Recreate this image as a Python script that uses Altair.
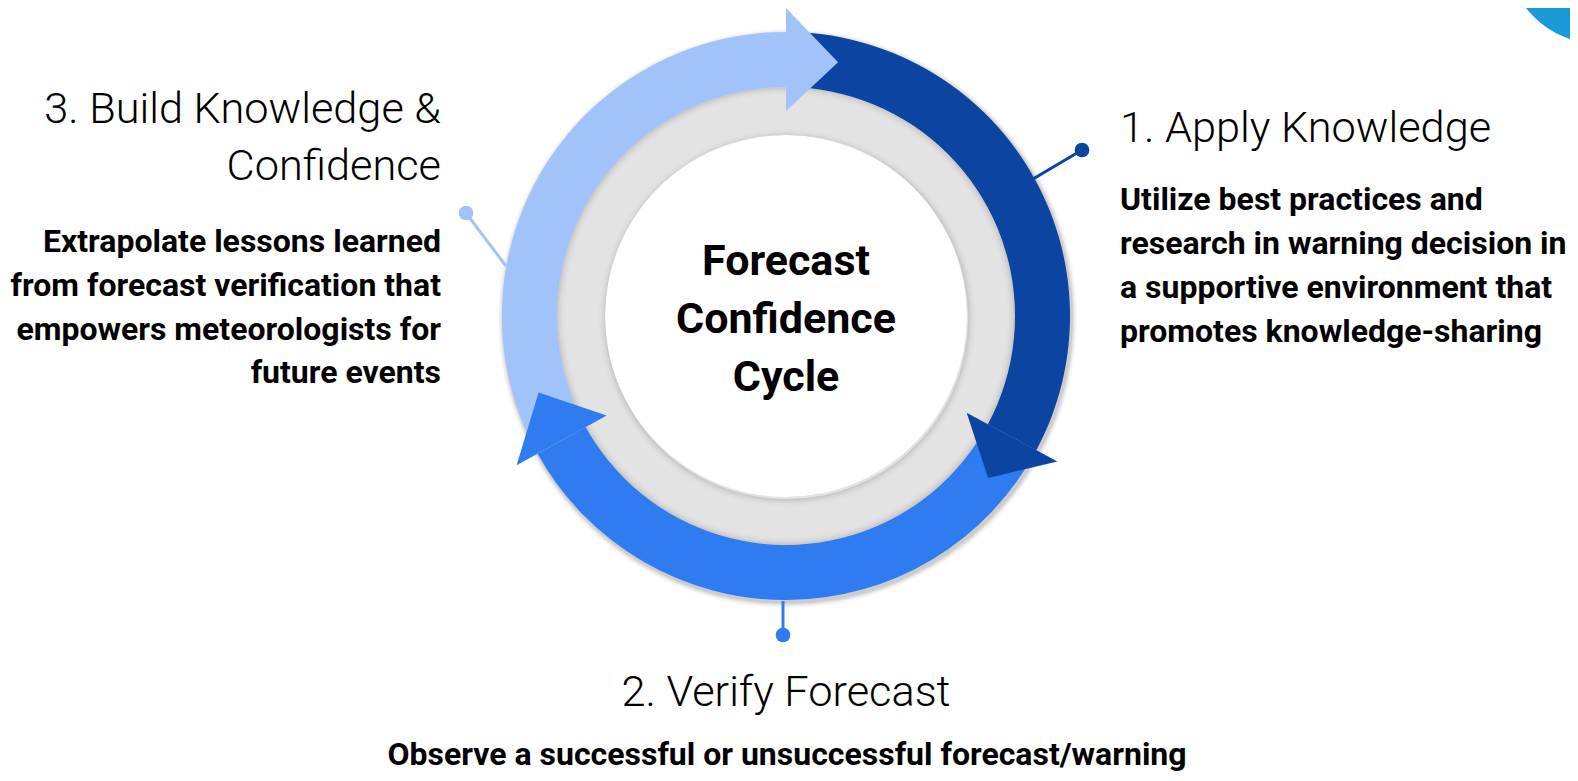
import math
import altair as alt
import pandas as pd

# ---------------- content ----------------
center_lines = ["Forecast", "Confidence", "Cycle"]

stage_colors = ["#0B44A1", "#2F7CF1", "#A1C3FA"]          # apply, verify, build
stage_titles = [["1. Apply Knowledge"],
                ["2. Verify Forecast"],
                ["3. Build Knowledge &", "Confidence"]]
stage_descs = [["Utilize best practices and",
                "research in warning decision in",
                "a supportive environment that",
                "promotes knowledge-sharing"],
               ["Observe a successful or unsuccessful forecast/warning"],
               ["Extrapolate lessons learned",
                "from forecast verification that",
                "empowers meteorologists for",
                "future events"]]

# cycle segments, degrees clockwise from 12 o'clock
band_start_deg = [0.0, 118.2, 241.0]
band_end_deg = [118.2, 241.0, 360.0]
head_span_deg = [10.5, 11.8, 11.6]

# ---------------- layout ----------------
CX, CY = 786, 316
R_WHITE, R_GREY = 181, 229
R_BAND_IN, R_BAND_OUT = 228, 284
HEAD_IN, HEAD_OUT, HEAD_TIP = 205, 308, 259

title_anchor = [(1120, [142]), (786, [706]), (441, [123, 180])]
desc_anchor = [(1120, [210, 254, 298, 342]), (787, [765]), (441, [252, 296, 340, 383])]
title_align = ["left", "center", "right"]
conn_from = [(1033, 179), (783, 601), (506, 266)]
conn_to = [(1082, 150), (783, 635), (466, 213)]
center_text_y = [275, 333, 391]
corner_circle = (1600, -50, 94, "#1A9AD6")

TITLE_SIZE, DESC_SIZE, CENTER_SIZE = 43.3, 32, 43

W, H = 1562, 765
xs = alt.Scale(domain=[8, 8 + W], nice=False, zero=False)
ys = alt.Scale(domain=[8 + H, 8], nice=False, zero=False)


def X(f):
    return alt.X(f + ":Q", scale=xs, axis=None)


def Y(f):
    return alt.Y(f + ":Q", scale=ys, axis=None)


def arc_layer(rows, **mk):
    df = pd.DataFrame(rows, columns=["cx", "cy", "t1", "t2", "ri", "ro", "color", "op"])
    return alt.Chart(df).mark_arc(**mk).encode(
        x=X("cx"), y=Y("cy"),
        theta=alt.Theta("t1:Q", scale=None, stack=None),
        theta2=alt.Theta2("t2:Q"),
        radius=alt.Radius("ro:Q", scale=None),
        radius2=alt.Radius2("ri:Q"),
        color=alt.Color("color:N", scale=None),
        opacity=alt.Opacity("op:Q", scale=None),
    )


rad = math.radians
full = 2 * math.pi

# corner decoration
ccx, ccy, ccr, ccc = corner_circle
corner = arc_layer([(ccx, ccy, 0, full, 0, ccr, ccc, 1.0)])

# soft shadow beneath the coloured ring
shadow_rows = []
for i, op in enumerate([0.05, 0.05, 0.04, 0.03, 0.02, 0.015]):
    shadow_rows.append((CX + 1.5, CY + 2.5, 0, full, 0, R_BAND_OUT + 1 + i, "#000000", op))
shadow = arc_layer(shadow_rows)

# coloured bands
band_rows = [(CX, CY, rad(s), rad(e), R_BAND_IN, R_BAND_OUT, c, 1.0)
             for s, e, c in zip(band_start_deg, band_end_deg, stage_colors)]
bands = arc_layer(band_rows)

# grey ring with soft inner/outer shading, then white disc
grey_rows = [(CX, CY, 0, full, R_WHITE, R_GREY, "#E3E3E3", 1.0)]
for i, op in enumerate([0.10, 0.06, 0.035, 0.015]):
    grey_rows.append((CX, CY, 0, full, R_GREY - 2 * (i + 1), R_GREY, "#000000", op * 0.5))
for i, op in enumerate([0.10, 0.06, 0.035, 0.015]):
    grey_rows.append((CX + 1, CY + 2, 0, full, R_WHITE, R_WHITE + 2 * (i + 1), "#000000", op * 0.5))
grey = arc_layer(grey_rows)
white = arc_layer([(CX, CY, 0, full, 0, R_WHITE, "#FFFFFF", 1.0)])


# arrow heads (triangles) as planar polygons
def pt(a_deg, r):
    a = rad(a_deg)
    return [CX + r * math.sin(a) - 8, CY - r * math.cos(a) - 8]


features = []
for e, span, c in zip(band_end_deg, head_span_deg, stage_colors):
    poly = [pt(e, HEAD_IN), pt(e, HEAD_OUT), pt(e + span, HEAD_TIP), pt(e, HEAD_IN)]
    features.append({"type": "Feature", "properties": {"color": c},
                     "geometry": {"type": "Polygon", "coordinates": [poly]}})
heads = alt.Chart(alt.Data(values=features)).mark_geoshape(
    strokeOpacity=0, strokeWidth=0
).encode(
    color=alt.Color("properties.color:N", scale=None)
).project(type="identity", scale=1, translate=[0, 0])

# connectors
conn_df = pd.DataFrame({
    "x1": [p[0] for p in conn_from], "y1": [p[1] for p in conn_from],
    "x2": [p[0] for p in conn_to], "y2": [p[1] for p in conn_to],
    "color": stage_colors,
})
rules = alt.Chart(conn_df).mark_rule(strokeWidth=3).encode(
    x=X("x1"), y=Y("y1"), x2="x2:Q", y2="y2:Q",
    color=alt.Color("color:N", scale=None))
dots = alt.Chart(conn_df).mark_circle(size=215, opacity=1).encode(
    x=X("x2"), y=Y("y2"), color=alt.Color("color:N", scale=None))


# text
def text_layer(rows, align, size, weight):
    df = pd.DataFrame(rows, columns=["text", "x", "y"])
    return alt.Chart(df).mark_text(
        align=align, baseline="alphabetic", font="Roboto",
        fontSize=size, fontWeight=weight, color="#000000"
    ).encode(x=X("x"), y=Y("y"), text="text:N")


text_layers = []
for i in range(3):
    tx, tys = title_anchor[i]
    text_layers.append(text_layer([(t, tx, y) for t, y in zip(stage_titles[i], tys)],
                                  title_align[i], TITLE_SIZE, 300))
    dx, dys = desc_anchor[i]
    text_layers.append(text_layer([(t, dx, y) for t, y in zip(stage_descs[i], dys)],
                                  title_align[i], DESC_SIZE, 700))
text_layers.append(text_layer([(t, CX, y) for t, y in zip(center_lines, center_text_y)],
                              "center", CENTER_SIZE, 700))

chart = alt.layer(
    corner, shadow, bands, grey, white, heads, rules, dots, *text_layers
).properties(
    width=W, height=H, padding=0, autosize="none", background="white"
).configure_view(strokeWidth=0)

chart.save("out.html", embed_options={"renderer": "svg", "actions": False})
